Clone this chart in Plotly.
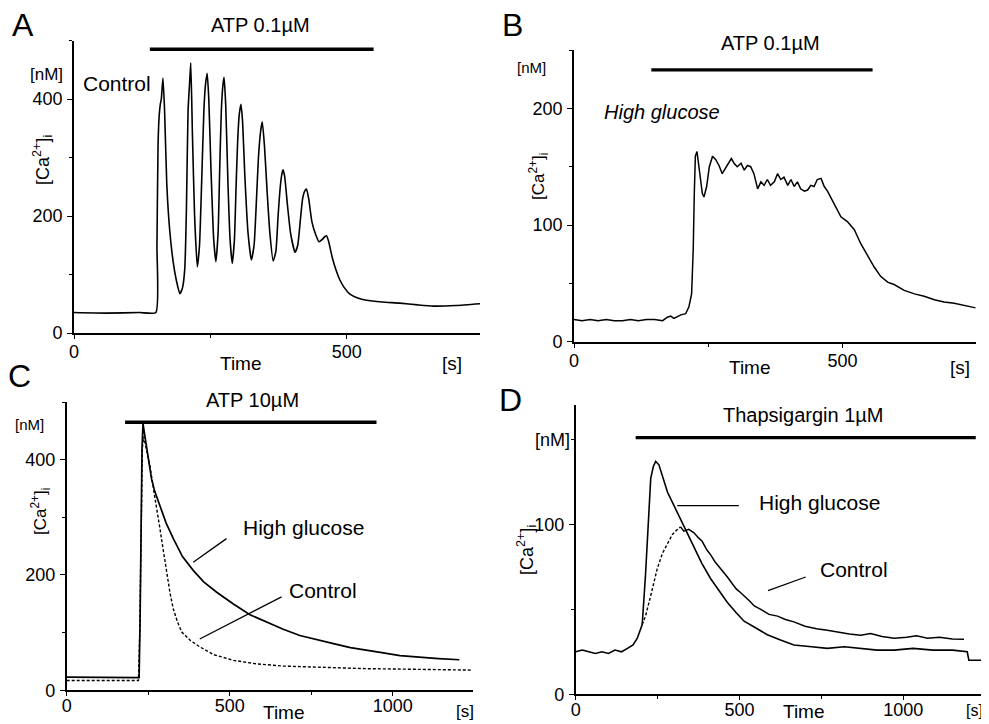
import plotly.graph_objects as go

W, H = 989, 724
OFF = 8  # page body margin of the browser

# ---------------- Panel A: ATP 0.1 uM, control ----------------
A_t = [0, 60, 120, 150, 152, 154, 156, 158, 160, 163,
       166, 170, 175, 182, 188, 194, 199, 203, 206, 209,
       212, 214, 217, 221, 226, 230, 234, 238, 241, 244,
       247, 251, 256, 260, 264, 267, 270, 273, 275, 278,
       282, 286, 290, 294, 297, 300, 303, 306, 309, 313,
       319, 325, 330, 334, 338, 342, 345, 349, 354, 359,
       365, 370, 374, 378, 381, 383, 386, 391, 397, 405,
       410, 415, 419, 423, 426, 430, 436, 443, 449, 455,
       460, 463, 467, 473, 480, 487, 495, 505, 520, 536,
       565, 597, 630, 658, 700, 744]
A_v = [35, 34, 35, 35, 150, 320, 370, 390, 400, 436,
       380, 255, 180, 120, 88, 67, 78, 110, 210, 380,
       430, 462, 340, 200, 113, 150, 260, 380, 425, 444,
       400, 280, 160, 122, 170, 280, 380, 425, 437, 390,
       260, 160, 119, 160, 250, 330, 375, 391, 360, 270,
       170, 125, 150, 220, 300, 345, 361, 320, 240, 170,
       123, 140, 200, 250, 272, 279, 268, 220, 170, 138,
       150, 195, 230, 243, 246, 230, 190, 168, 156, 160,
       165, 166, 155, 130, 108, 91, 78, 67, 60, 56,
       53, 51, 48, 46, 47, 50]
A_bar_t = [139, 549]
A_bar_v = [485, 485]

# ---------------- Panel B: ATP 0.1 uM, high glucose ----------------
B_t = [0, 15, 30, 45, 60, 75, 90, 105, 120, 135,
       150, 165, 174, 180, 186, 193, 199, 208, 214, 219,
       222, 224, 226, 229, 231, 235, 239, 242, 247, 252,
       258, 264, 270, 276, 283, 289, 293, 298, 304, 311,
       317, 323, 329, 335, 342, 348, 354, 360, 366, 373,
       379, 385, 391, 398, 404, 410, 416, 422, 429, 435,
       441, 447, 453, 460, 466, 472, 484, 497, 509, 522,
       534, 547, 559, 571, 584, 596, 615, 634, 652, 671,
       689, 708, 727, 748]
B_v = [19, 18, 19, 18, 19, 18, 18, 19, 18, 19,
       19, 18, 21, 22, 20, 22, 23, 24, 30, 41,
       79, 127, 159, 163, 156, 139, 127, 124, 133, 150,
       159, 156, 151, 144, 149, 153, 157, 153, 150, 153,
       147, 151, 150, 144, 131, 137, 134, 139, 134, 137,
       144, 139, 141, 134, 139, 133, 137, 131, 129, 130,
       134, 133, 139, 140, 133, 129, 119, 107, 103, 96,
       84, 73, 64, 56, 51, 49, 44, 41, 39, 36,
       34, 33, 31, 29]
B_bar_t = [144, 556]
B_bar_v = [233, 233]

# ---------------- Panel C: ATP 10 uM ----------------
C_hg_t = [0, 100, 200, 222, 225, 228, 231, 234, 240, 250,
          260, 270, 286, 305, 327, 355, 388, 420, 460, 510,
          562, 613, 664, 715, 770, 818, 870, 919, 971, 1022,
          1080, 1140, 1204]
C_hg_v = [23, 22, 22, 22, 120, 300, 420, 462, 440, 405,
          367, 345, 318, 290, 263, 232, 208, 188, 170, 150,
          131, 118, 106, 95, 87, 81, 74, 69, 65, 60,
          57, 55, 53]
C_ct_t = [0, 100, 200, 220, 224, 228, 232, 236, 245, 255,
          266, 276, 286, 297, 307, 317, 327, 340, 353, 380,
          409, 450, 511, 580, 664, 760, 850, 919, 1000, 1100,
          1180, 1241]
C_ct_v = [17, 17, 17, 17, 100, 300, 420, 440, 415, 390,
          350, 318, 280, 240, 200, 168, 141, 118, 101, 86,
          75, 62, 52, 46, 42, 40, 38, 37.5, 37, 36,
          35, 35]
C_bar_t = [179, 950]
C_bar_v = [465, 465]

# ---------------- Panel D: Thapsigargin 1 uM ----------------
D_hg_t = [0, 20, 40, 60, 80, 100, 120, 140, 158, 175,
          188, 203, 213, 221, 229, 237, 244, 254, 265, 280,
          300, 320, 340, 361, 385, 412, 438, 463, 490, 514,
          550, 585, 625, 666, 720, 768, 820, 870, 920, 972,
          1030, 1090, 1150, 1195, 1200, 1241]
D_hg_v = [25, 26, 25, 24, 25, 24, 26, 25, 27, 29,
          33, 41, 70, 100, 127, 134, 137, 135, 128, 119,
          111, 103, 95, 87, 77, 68, 61, 54, 48, 43,
          39, 35, 32, 29, 28, 27, 28, 27, 26, 26,
          27, 26, 26, 25, 20, 20]
D_ctr_dash_t = [203, 213, 229, 249, 265, 280, 295, 305, 320]
D_ctr_dash_v = [41, 46, 58, 74, 83, 89, 94, 96, 98.5]
D_ct_t = [320, 330, 345, 361, 375, 386, 400, 412, 425, 438,
          450, 463, 478, 490, 502, 514, 530, 545, 565, 590,
          616, 640, 666, 700, 735, 768, 800, 835, 870, 900,
          935, 972, 1010, 1040, 1074, 1110, 1150, 1185]
D_ct_v = [98.5, 96, 97, 95, 92, 90, 85, 82, 78, 75,
          72, 69, 65, 62, 60, 58, 55, 52, 50, 47,
          46, 44, 42.6, 40, 38.5, 37.7, 36.5, 35.5, 34.7, 35.8,
          34, 33, 33.5, 34.5, 33, 33.5, 32.5, 32.4]
D_bar_t = [183, 1221]
D_bar_v = [151, 151]

# axis ranges / ticks
A_xrange, A_yrange = [0, 744], [0, 500]
B_xrange, B_yrange = [0, 748], [0, 250]
C_xrange, C_yrange = [0, 1245], [0, 500]
D_xrange, D_yrange = [0, 1241], [0, 170]
A_xticks, A_yticks = [0, 500], [0, 200, 400]
B_xticks, B_yticks = [0, 500], [0, 100, 200]
C_xticks, C_yticks = [0, 500, 1000], [0, 200, 400]
D_xticks, D_yticks = [0, 500, 1000], [0, 100]

FW, FH = W - OFF, H - OFF


def PX(x):
    return (x - OFF) / FW


def PY(y):
    return 1 - (y - OFF) / FH


FONT = "Liberation Sans, Arial, sans-serif"
fig = go.Figure()


def line(x, y, k, dash="solid", width=1.5, shape="linear"):
    sfx = "" if k == 1 else str(k)
    fig.add_trace(go.Scatter(
        x=x, y=y, xaxis="x" + sfx, yaxis="y" + sfx, mode="lines",
        line=dict(color="black", width=width, dash=dash, shape=shape,
                  smoothing=0.5 if shape == "spline" else None),
        hoverinfo="skip", showlegend=False))


line(A_t, A_v, 1, shape="spline", width=1.6)
line(A_bar_t, A_bar_v, 1, width=3.4)
line(B_t, B_v, 2, width=1.5)
line(B_bar_t, B_bar_v, 2, width=3.4)
line(C_ct_t, C_ct_v, 3, dash="3px,2px", width=1.4)
line(C_hg_t, C_hg_v, 3, width=1.7)
line(C_bar_t, C_bar_v, 3, width=3.4)
line(D_hg_t, D_hg_v, 4, width=1.6)
line(D_ctr_dash_t, D_ctr_dash_v, 4, dash="3px,2px", width=1.4)
line(D_ct_t, D_ct_v, 4, width=1.5)
line(D_bar_t, D_bar_v, 4, width=3.4)


def base_ax(dom, rng, ticks, anchor, minor, ticklen, standoff):
    return dict(domain=dom, range=rng, anchor=anchor, tickvals=ticks,
                automargin=False,
                showline=True, linecolor="black", linewidth=1.6,
                ticks="outside", ticklen=ticklen, tickwidth=1.4,
                tickcolor="black", ticklabelstandoff=standoff,
                showgrid=False, zeroline=False,
                tickfont=dict(family=FONT, size=18, color="black"),
                minor=dict(ticks="outside", ticklen=3, tickcolor="black",
                           tick0=0, dtick=minor, showgrid=False))


fig.update_layout(
    width=FW, height=FH, margin=dict(l=0, r=0, t=0, b=0, autoexpand=False),
    paper_bgcolor="white", plot_bgcolor="white",
    xaxis=base_ax([PX(74), PX(480)], A_xrange, A_xticks, "y", 250, 4, -2),
    yaxis=base_ax([PY(333), PY(40.5)], A_yrange, A_yticks, "x", 100, 5, 1),
    xaxis2=base_ax([PX(574), PX(975.7)], B_xrange, B_xticks, "y2", 250, 4, -2),
    yaxis2=base_ax([PY(341.7), PY(50)], B_yrange, B_yticks, "x2", 50, 5, 1),
    xaxis3=base_ax([PX(66.7), PX(472.7)], C_xrange, C_xticks, "y3", 250, 4, -6),
    yaxis3=base_ax([PY(690.3), PY(402)], C_yrange, C_yticks, "x3", 100, 5, 1),
    xaxis4=base_ax([PX(575.7), PX(982.3)], D_xrange, D_xticks, "y4", 250, 4, -6),
    yaxis4=base_ax([PY(694.3), PY(405.3)], D_yrange, D_yticks, "x4", 50, 5, 1),
)

ann = []


def ptext(x, y, s, size=18, angle=0):
    ann.append(dict(x=PX(x), y=PY(y), xref="paper", yref="paper", text=s,
                    showarrow=False, xanchor="center", yanchor="middle",
                    textangle=angle,
                    font=dict(family=FONT, size=size, color="black")))


# panel letters
ptext(23, 25, "A", 32)
ptext(513, 25, "B", 32)
ptext(19, 376, "C", 32)
ptext(510, 400, "D", 32)
# treatment labels
ptext(260, 25, "ATP 0.1µM", 20)
ptext(770, 43, "ATP 0.1µM", 20)
ptext(252, 400, "ATP 10µM", 20)
ptext(803, 415, "Thapsigargin 1µM", 20)
# units
ptext(46, 75, "[nM]", 17)
ptext(531, 68, "[nM]", 15)
ptext(29, 424, "[nM]", 15)
ptext(552, 440, "[nM]", 18)
# y titles
ca = "[Ca<sup>2+</sup>]<sub>i</sub>"
ptext(42, 160, ca, 18, -90)
ptext(538, 177, ca, 17, -90)
ptext(40, 512, ca, 17, -90)
ptext(526, 550, ca, 18, -90)
# x titles
ptext(241, 363, "Time", 19)
ptext(452, 363, "[s]", 19)
ptext(750, 367, "Time", 19)
ptext(960, 367, "[s]", 19)
ptext(284, 712, "Time", 19)
ptext(465, 711, "[s]", 17)
ptext(804, 711, "Time", 19)
ptext(974, 710, "[s]", 16)
# curve labels
ptext(117, 83, "Control", 21)
ptext(662, 112, "<i>High glucose</i>", 20)
ptext(303, 527, "High glucose", 21)
ptext(323, 590, "Control", 21)
ptext(819, 502, "High glucose", 21)
ptext(854, 569, "Control", 21)
fig.update_layout(annotations=ann)

# leader lines (data coordinates)
C_lead_hg = ([490, 388], [263, 222])
C_lead_ct = ([659, 408], [162, 89])
D_lead_hg = ([310, 498], [111, 111])
D_lead_ct = ([702, 587], [69, 61])
for (xs, ys), k in [(C_lead_hg, 3), (C_lead_ct, 3), (D_lead_hg, 4), (D_lead_ct, 4)]:
    fig.add_shape(type="line", x0=xs[0], x1=xs[1], y0=ys[0], y1=ys[1],
                  xref="x%d" % k, yref="y%d" % k,
                  line=dict(color="black", width=1.3))

fig.write_html("out.html")
